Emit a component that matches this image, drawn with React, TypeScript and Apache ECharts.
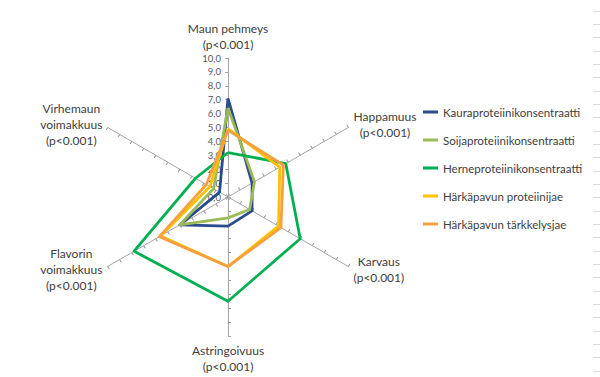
import React, { useEffect, useRef } from "react";
import * as echarts from "echarts";

// Categories in the reference's (clockwise) order
const categories = [
  "Maun pehmeys\n(p<0.001)",
  "Happamuus\n(p<0.001)",
  "Karvaus\n(p<0.001)",
  "Astringoivuus\n(p<0.001)",
  "Flavorin\nvoimakkuus\n(p<0.001)",
  "Virhemaun\nvoimakkuus\n(p<0.001)",
];

const seriesNames = [
  "Kauraproteiinikonsentraatti",
  "Soijaproteiinikonsentraatti",
  "Herneproteiinikonsentraatti",
  "Härkäpavun proteiinijae",
  "Härkäpavun tärkkelysjae",
];

const kaura = [7.1, 2.0, 2.0, 2.1, 4.0, 0.7];
const soija = [6.4, 2.2, 1.8, 1.5, 4.0, 1.2];
const herne = [3.2, 4.8, 6.0, 7.5, 7.8, 2.7];
const harkaProteiini = [4.9, 4.3, 4.2, 5.0, 5.6, 1.5];
const harkaTarkkelys = [4.8, 4.6, 4.4, 5.0, 5.7, 1.8];

const colors = ["#2B4C8C", "#9BBB59", "#00B050", "#FFC000", "#F7A040"];
const axisMax = 10;

// ECharts radar goes counter-clockwise; reorder clockwise reference categories
const order = [0, 5, 4, 3, 2, 1];

export default function App() {
  const ref = useRef<HTMLDivElement>(null);
  useEffect(() => {
    if (!ref.current) return;
    const chart = echarts.init(ref.current, null, { renderer: "svg" });
    const allSeries = [kaura, soija, herne, harkaProteiini, harkaTarkkelys];
    const font = "Lato";
    const indicator = order.map((i, k) => ({
      name: categories[i],
      min: 0,
      max: axisMax,
      axisLabel: { show: k === 0 },
    }));
    const indicator2 = order.map((i) => ({
      name: categories[i],
      min: 0,
      max: axisMax,
    }));
    const dashes: any[] = [];
    for (let i = 0; i < 28; i++) {
      const y = Math.round(10.7 + 13.33 * i) + 0.5;
      dashes.push({
        type: "line",
        shape: { x1: 593, y1: y, x2: 600, y2: y },
        style: { stroke: "#d9d9d9", lineWidth: 1 },
        silent: true,
      });
    }
    const commonRadar = {
      center: [228, 197],
      radius: 139,
      startAngle: 90,
      splitNumber: 10,
      shape: "polygon",
      splitLine: { show: false },
      splitArea: { show: false },
    };
    chart.setOption({
      animation: false,
      backgroundColor: "#ffffff",
      color: colors,
      textStyle: { fontFamily: font },
      graphic: dashes,
      legend: {
        orient: "vertical",
        left: 418,
        top: 101,
        itemGap: 16,
        itemWidth: 15,
        itemHeight: 3,
        icon: "rect",
        textStyle: { fontSize: 11.5, color: "#404040", fontFamily: font },
        data: seriesNames,
      },
      radar: [
        {
          ...commonRadar,
          indicator,
          nameGap: 6,
          axisName: {
            color: "#404040",
            fontSize: 12,
            fontFamily: font,
            lineHeight: 16,
            formatter: (name: string) =>
              name
                .split("\n")
                .map((l) => `{c|${l}}`)
                .join("\n"),
            rich: {
              c: { align: "center", fontSize: 12, color: "#404040", fontFamily: font, lineHeight: 16 },
            },
          },
          axisLine: { show: true, lineStyle: { color: "#A6A6A6", width: 1 } },
          axisTick: { show: true, length: 3, lineStyle: { color: "#A6A6A6", width: 1 } },
          axisLabel: {
            show: false,
            color: "#595959",
            fontSize: 9.5,
            fontFamily: font,
            margin: 7,
            formatter: (v: number) => v.toFixed(1).replace(".", ","),
          },
        },
        {
          ...commonRadar,
          indicator: indicator2,
          axisName: { show: false },
          axisLine: { show: false },
          axisLabel: { show: false },
          axisTick: { show: true, inside: true, length: 3, lineStyle: { color: "#A6A6A6", width: 1 } },
        },
      ],
      series: [
        {
          type: "radar",
          radarIndex: 0,
          symbol: "none",
          data: allSeries.map((vals, s) => ({
            name: seriesNames[s],
            value: order.map((i) => vals[i]),
            symbol: "none",
            lineStyle: { color: colors[s], width: 2.8 },
            itemStyle: { color: colors[s] },
          })),
        },
      ],
    });
    return () => chart.dispose();
  }, []);
  return (
    <div
      ref={ref}
      style={{ position: "absolute", left: 0, top: 0, width: 600, height: 377 }}
    />
  );
}
